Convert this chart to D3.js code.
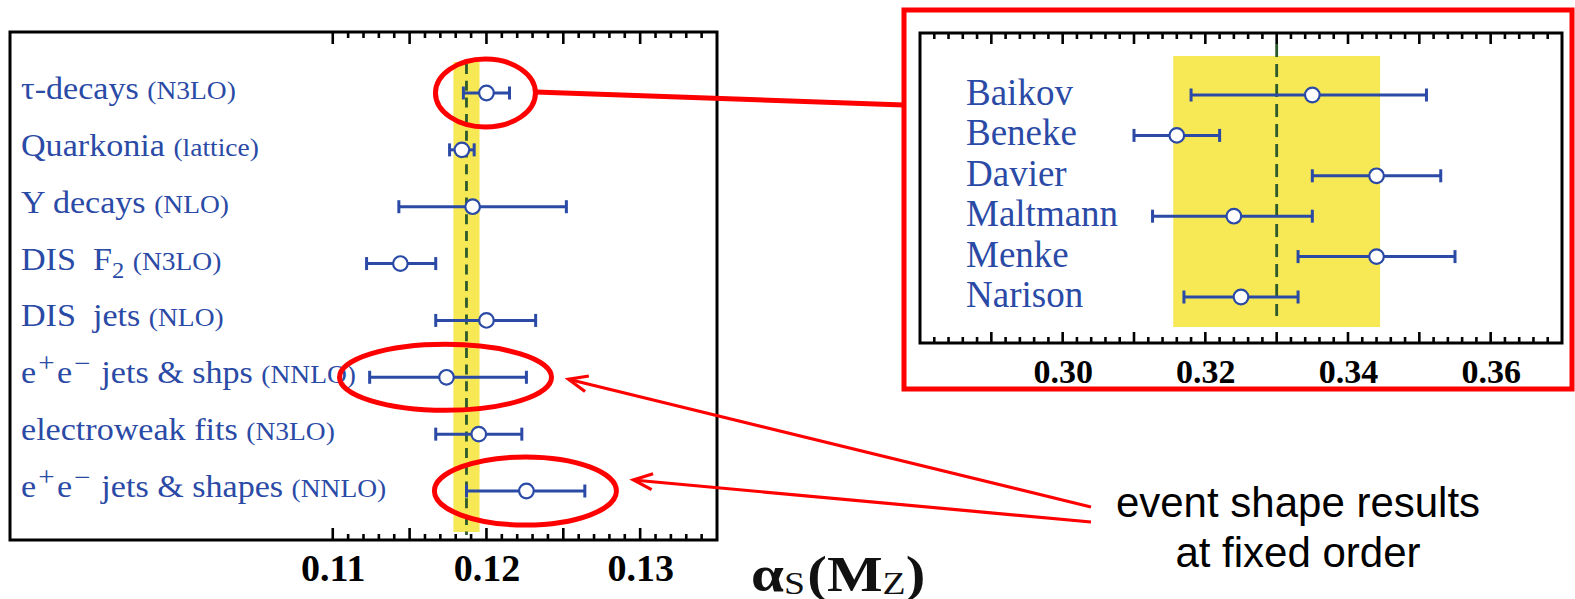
<!DOCTYPE html>
<html>
<head>
<meta charset="utf-8">
<script src="https://cdn.jsdelivr.net/npm/d3@7"></script>
<style>
  html, body { margin: 0; padding: 0; background: #fff; }
  svg { display: block; }
</style>
</head>
<body>
<svg id="chart" width="1575" height="599"></svg>
<script>
// ---- alpha_s(M_Z) determinations by process ----
const processes = ["τ-decays", "Quarkonia", "Υ decays", "DIS\u00a0\u00a0F_{2}", "DIS\u00a0\u00a0jets",
                   "e^{+}e^{−} jets & shps", "electroweak fits", "e^{+}e^{−} jets & shapes"];
const orders = ["(N3LO)", "(lattice)", "(NLO)", "(N3LO)", "(NLO)", "(NNLO)", "(N3LO)", "(NNLO)"];
const alphaCentral = [0.1200, 0.1184, 0.1191, 0.1144, 0.1200, 0.1174, 0.1195, 0.1226];
const alphaLow     = [0.1185, 0.1176, 0.1143, 0.1122, 0.1167, 0.1124, 0.1167, 0.1187];
const alphaHigh    = [0.1215, 0.1192, 0.1252, 0.1167, 0.1232, 0.1226, 0.1223, 0.1264];
const worldAverage = 0.1187;
const worldAverageErr = 0.00085;
const alphaTickLabels = [0.11, 0.12, 0.13];

// ---- alpha_s(m_tau) from tau decays ----
const tauAuthors = ["Baikov", "Beneke", "Davier", "Maltmann", "Menke", "Narison"];
const tauCentral = [0.335, 0.316, 0.344, 0.324, 0.344, 0.325];
const tauLow     = [0.318, 0.310, 0.335, 0.3126, 0.333, 0.317];
const tauHigh    = [0.351, 0.322, 0.353, 0.335, 0.355, 0.333];
const tauAverage = 0.330;
const tauAverageErr = 0.0145;
const tauTickLabels = [0.30, 0.32, 0.34, 0.36];

const annotationText = ["event shape results", "at fixed order"];

const BLUE = "#2a4aa6";
const YELLOW = "#f7e856";
const GREEN = "#2d5a2d";
const RED = "#ff0000";
const SERIF = "'Liberation Serif', 'Times New Roman', serif";

const svg = d3.select("#chart");

// arrowhead for the annotation arrows
svg.append("defs").append("marker")
  .attr("id", "arrowhead")
  .attr("markerUnits", "userSpaceOnUse")
  .attr("viewBox", "-22 -12 26 24")
  .attr("refX", 0).attr("refY", 0)
  .attr("markerWidth", 26).attr("markerHeight", 24)
  .attr("orient", "auto")
  .append("path")
  .attr("d", "M-19,-8 L0,0 L-19,8")
  .attr("fill", "none")
  .attr("stroke", RED)
  .attr("stroke-width", 3.2);

// draws label text with ^{} superscripts and _{} subscripts as tspans
function richText(sel, str, size) {
  const parts = str.split(/(\^\{[^}]*\}|_\{[^}]*\})/).filter(s => s.length);
  let shift = 0;
  parts.forEach(p => {
    let txt = p, dy = 0, fs = size, dx = 0;
    if (p.startsWith("^{")) { txt = p.slice(2, -1); dy = -0.36 * size; fs = size * 0.85; dx = 2; }
    else if (p.startsWith("_{")) { txt = p.slice(2, -1); dy = 0.28 * size; fs = size * 0.72; }
    else if (shift < 0) { dx = 2; }
    sel.append("tspan")
      .attr("dy", dy - shift)
      .attr("dx", dx)
      .attr("font-size", fs)
      .text(txt);
    shift = dy;
  });
  return shift;
}

function errorBars(g, xs, ys, names, central, low, high) {
  const rows = g.selectAll("g.pt").data(names).join("g").attr("class", "pt")
    .attr("transform", d => `translate(0,${ys(d)})`);
  rows.append("line")
    .attr("x1", (d, i) => xs(low[i])).attr("x2", (d, i) => xs(high[i]))
    .attr("stroke", BLUE).attr("stroke-width", 3);
  rows.append("line")
    .attr("x1", (d, i) => xs(low[i])).attr("x2", (d, i) => xs(low[i]))
    .attr("y1", -6.5).attr("y2", 6.5)
    .attr("stroke", BLUE).attr("stroke-width", 3);
  rows.append("line")
    .attr("x1", (d, i) => xs(high[i])).attr("x2", (d, i) => xs(high[i]))
    .attr("y1", -6.5).attr("y2", 6.5)
    .attr("stroke", BLUE).attr("stroke-width", 3);
  rows.append("circle")
    .attr("cx", (d, i) => xs(central[i])).attr("cy", 0).attr("r", 7.3)
    .attr("fill", "#fff").attr("stroke", BLUE).attr("stroke-width", 2.2);
}

// inward tick marks on the top and bottom edges of a frame
function frameTicks(g, xs, top, bottom, values, isMajor, minorLen, majorLen) {
  const len = v => (isMajor(v) ? majorLen : minorLen);
  const tg = g.append("g").attr("stroke", "#000").attr("stroke-width", 2.6);
  tg.selectAll("line.bt").data(values).join("line").attr("class", "bt")
    .attr("x1", d => xs(d)).attr("x2", d => xs(d))
    .attr("y1", bottom).attr("y2", d => bottom - len(d));
  tg.selectAll("line.tp").data(values).join("line").attr("class", "tp")
    .attr("x1", d => xs(d)).attr("x2", d => xs(d))
    .attr("y1", top).attr("y2", d => top + len(d));
}

// ================= left panel =================
const xL = d3.scaleLinear().domain([0.089, 0.135]).range([10, 717]);
const yL = d3.scalePoint().domain(processes).range([93, 491]);
const left = svg.append("g");

left.append("rect")
  .attr("x", xL(worldAverage - worldAverageErr)).attr("y", 62)
  .attr("width", xL(worldAverage + worldAverageErr) - xL(worldAverage - worldAverageErr))
  .attr("height", 470)
  .attr("fill", YELLOW);
left.append("line")
  .attr("x1", xL(worldAverage)).attr("x2", xL(worldAverage))
  .attr("y1", 64).attr("y2", 535)
  .attr("stroke", GREEN).attr("stroke-width", 2.8)
  .attr("stroke-dasharray", "10,6.7");

const ticksL = d3.range(110, 135).map(v => v / 1000);
frameTicks(left, xL, 32, 540, ticksL, v => Math.round(v * 1000) % 5 === 0, 6, 12);

left.append("rect")
  .attr("x", 10).attr("y", 32).attr("width", 707).attr("height", 508)
  .attr("fill", "none").attr("stroke", "#000").attr("stroke-width", 3);

errorBars(left, xL, yL, processes, alphaCentral, alphaLow, alphaHigh);

// process labels
processes.forEach((name, i) => {
  const t = left.append("text")
    .attr("transform", `translate(21,${yL(name) + 6}) scale(1.1,1)`)
    .attr("font-family", SERIF).attr("fill", BLUE)
    .attr("font-size", 31);
  const shift = richText(t, name + " ", 31);
  t.append("tspan").attr("dy", -shift).attr("font-size", 25).text(orders[i]);
});

// bottom tick labels
const axL = left.append("g").attr("transform", "translate(0,540)")
  .call(d3.axisBottom(xL).tickValues(alphaTickLabels).tickSize(0).tickPadding(14)
    .tickFormat(d3.format(".2f")));
axL.select(".domain").remove();
axL.selectAll("text").attr("font-family", SERIF).attr("font-weight", "bold")
  .attr("font-size", 38).attr("fill", "#000");

// axis title alpha_s(M_Z)
const title = svg.append("text")
  .attr("transform", "translate(751,591) scale(1.18,1)")
  .attr("font-family", SERIF).attr("font-weight", "bold")
  .attr("font-size", 50).attr("fill", "#111");
title.append("tspan").text("α");
title.append("tspan").attr("font-size", 32).attr("font-weight", "normal").attr("dy", 3).text("S");
title.append("tspan").attr("dy", -3).attr("dx", 2).text("(M");
title.append("tspan").attr("font-size", 32).attr("font-weight", "normal").attr("dy", 3).text("Z");
title.append("tspan").attr("dy", -3).text(")");

// ================= right panel (tau) =================
const xR = d3.scaleLinear().domain([0.28, 0.37]).range([920, 1562]);
const yR = d3.scalePoint().domain(tauAuthors).range([95, 297]);
const right = svg.append("g");

right.append("rect")
  .attr("x", xR(tauAverage - tauAverageErr)).attr("y", 56)
  .attr("width", xR(tauAverage + tauAverageErr) - xR(tauAverage - tauAverageErr))
  .attr("height", 271)
  .attr("fill", YELLOW);
right.append("line")
  .attr("x1", xR(tauAverage)).attr("x2", xR(tauAverage))
  .attr("y1", 44).attr("y2", 316)
  .attr("stroke", GREEN).attr("stroke-width", 2.8)
  .attr("stroke-dasharray", "13,7");

const ticksR = d3.range(282, 370, 2).map(v => v / 1000);
frameTicks(right, xR, 33, 343, ticksR, v => Math.round(v * 1000) % 10 === 0, 6, 11);

right.append("rect")
  .attr("x", 920).attr("y", 33).attr("width", 642).attr("height", 310)
  .attr("fill", "none").attr("stroke", "#000").attr("stroke-width", 3);

errorBars(right, xR, yR, tauAuthors, tauCentral, tauLow, tauHigh);

right.selectAll("text.author").data(tauAuthors).join("text")
  .attr("class", "author")
  .attr("x", 966).attr("y", d => yR(d) + 10)
  .attr("font-family", SERIF).attr("font-size", 37).attr("fill", BLUE)
  .text(d => d);

const axR = right.append("g").attr("transform", "translate(0,343)")
  .call(d3.axisBottom(xR).tickValues(tauTickLabels).tickSize(0).tickPadding(16)
    .tickFormat(d3.format(".2f")));
axR.select(".domain").remove();
axR.selectAll("text").attr("font-family", SERIF).attr("font-weight", "bold")
  .attr("font-size", 34).attr("fill", "#000");

// ================= red annotations =================
const ann = svg.append("g").attr("fill", "none").attr("stroke", RED);

ann.append("rect")
  .attr("x", 904).attr("y", 10).attr("width", 668).attr("height", 379)
  .attr("stroke-width", 5);

const circled = [
  { i: 0, rx: 50, ry: 34 },
  { i: 5, rx: 106, ry: 33 },
  { i: 7, rx: 91, ry: 34 }
];
circled.forEach(c => {
  c.cx = xL(alphaCentral[c.i]) - 1;
  c.cy = yL(processes[c.i]);
  ann.append("ellipse")
    .attr("cx", c.cx).attr("cy", c.cy).attr("rx", c.rx).attr("ry", c.ry)
    .attr("stroke-width", 5);
});

// zoom link to the tau panel
ann.append("line")
  .attr("x1", circled[0].cx + circled[0].rx).attr("y1", circled[0].cy - 1)
  .attr("x2", 904).attr("y2", 105)
  .attr("stroke-width", 5);

// arrows from the annotation text to the event-shape results
[[1, 507, 15], [2, 522, 2]].forEach(([k, ys, off]) => {
  const c = circled[k];
  ann.append("line")
    .attr("x1", 1091).attr("y1", ys)
    .attr("x2", c.cx + c.rx + 17).attr("y2", c.cy + off - 13)
    .attr("stroke-width", 3.2)
    .attr("marker-end", "url(#arrowhead)");
});

svg.append("g").selectAll("text").data(annotationText).join("text")
  .attr("x", 1298).attr("y", (d, i) => 517 + i * 50)
  .attr("text-anchor", "middle")
  .attr("font-family", "'Liberation Sans', Arial, sans-serif")
  .attr("font-size", 42).attr("fill", "#000")
  .text(d => d);
</script>
</body>
</html>
